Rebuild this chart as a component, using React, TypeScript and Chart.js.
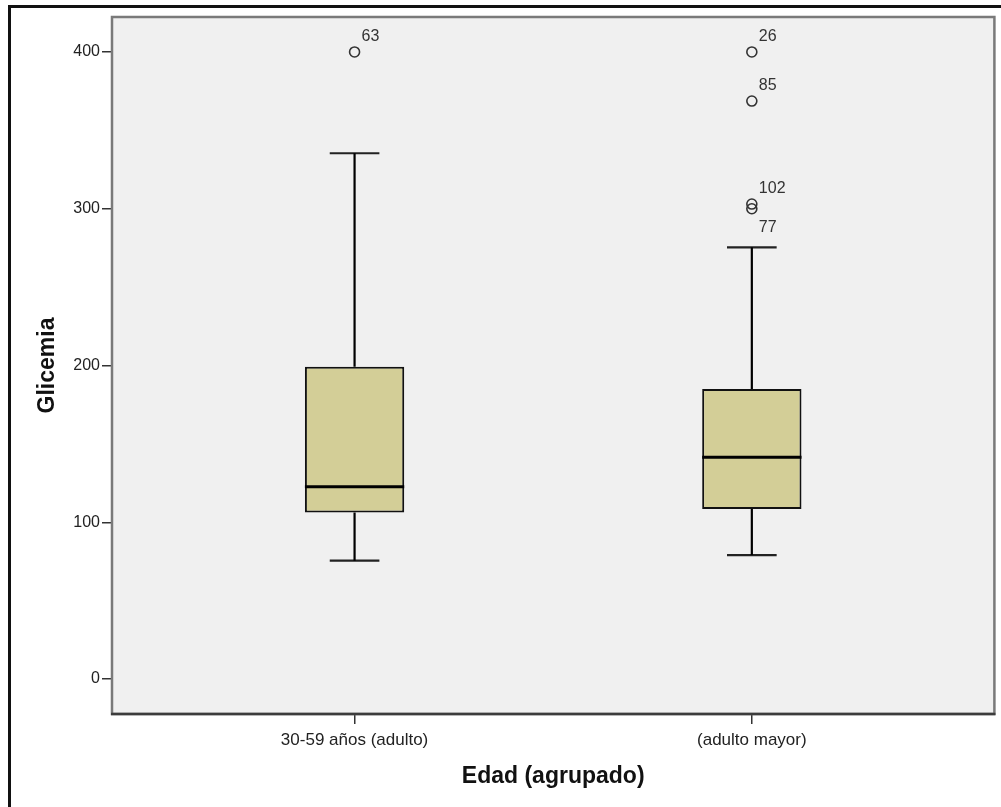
import React, { useEffect, useRef } from "react";
import { Chart, registerables } from "chart.js";

Chart.register(...registerables);

// ---- Data ----
const categories = ["30-59 años (adulto)", "(adulto mayor)"];
const whiskerLow = [75.5, 79.1];
const q1 = [106.3, 108.5];
const median = [122.7, 141.4];
const q3 = [199.2, 185.0];
const whiskerHigh = [335.4, 275.4];

const outlierGroup = [0, 1, 1, 1, 1];
const outlierValue = [400, 400, 368.7, 303, 300];
const outlierId = ["63", "26", "85", "102", "77"];
const outlierLabelBelow = [false, false, false, false, true];

const yTicks = [0, 100, 200, 300, 400];
const yMin = -22.3;
const yMax = 422.3;
const xMin = -0.6106;
const xMax = 1.6106;

// ---- Style constants ----
const BOX_HALF = 0.125;
const CAP_HALF = 0.0625;
const FONT = "'Liberation Sans', Arial, 'DejaVu Sans', sans-serif";

function buildWhiskers() {
  const pts: any[] = [];
  categories.forEach((_, i) => {
    pts.push({ x: i, y: q3[i] }, { x: i, y: whiskerHigh[i] }, { x: i, y: null });
    pts.push({ x: i, y: q1[i] }, { x: i, y: whiskerLow[i] }, { x: i, y: null });
  });
  return pts;
}
function buildCaps() {
  const pts: any[] = [];
  categories.forEach((_, i) => {
    pts.push({ x: i - CAP_HALF, y: whiskerHigh[i] }, { x: i + CAP_HALF, y: whiskerHigh[i] }, { x: i, y: null });
    pts.push({ x: i - CAP_HALF, y: whiskerLow[i] }, { x: i + CAP_HALF, y: whiskerLow[i] }, { x: i, y: null });
  });
  return pts;
}
function buildMedians() {
  const pts: any[] = [];
  categories.forEach((_, i) => {
    pts.push({ x: i - BOX_HALF, y: median[i] }, { x: i + BOX_HALF, y: median[i] }, { x: i, y: null });
  });
  return pts;
}

const framePlugin = {
  id: "spssFrame",
  beforeDraw(chart: any) {
    const { ctx, chartArea: a } = chart;
    ctx.save();
    ctx.fillStyle = "#ffffff";
    ctx.fillRect(0, 0, chart.width, chart.height);
    ctx.fillStyle = "#f0f0f0";
    ctx.fillRect(a.left, a.top, a.right - a.left, a.bottom - a.top);
    ctx.restore();
  },
  afterDatasetsDraw(chart: any) {
    const { ctx } = chart;
    const meta = chart.getDatasetMeta(4);
    ctx.save();
    ctx.font = `16px ${FONT}`;
    ctx.fillStyle = "#333";
    ctx.textAlign = "left";
    ctx.textBaseline = "alphabetic";
    meta.data.forEach((el: any, k: number) => {
      const dy = outlierLabelBelow[k] ? 23 : -11;
      ctx.fillText(outlierId[k], el.x + 7, el.y + dy);
    });
    ctx.restore();
  },
  afterDraw(chart: any) {
    const { ctx, chartArea: a } = chart;
    ctx.save();
    ctx.lineWidth = 2.5;
    ctx.strokeStyle = "#7a7a7a";
    ctx.strokeRect(a.left, a.top, a.right - a.left, a.bottom - a.top);
    ctx.strokeStyle = "#3c3c3c";
    ctx.beginPath();
    ctx.moveTo(a.left - 1, a.bottom);
    ctx.lineTo(a.right + 1, a.bottom);
    ctx.stroke();
    // outer frame
    ctx.fillStyle = "#111";
    ctx.fillRect(8, 5, 3, chart.height - 5);
    ctx.fillRect(8, 5, chart.width - 8, 3);
    ctx.restore();
  },
};

export default function App() {
  const ref = useRef<HTMLCanvasElement>(null);
  useEffect(() => {
    const chart = new Chart(ref.current as HTMLCanvasElement, {
      type: "bar",
      data: {
        datasets: [
          {
            type: "line",
            data: buildMedians(),
            borderColor: "#000",
            borderWidth: 3,
            pointRadius: 0,
            spanGaps: false,
            fill: false,
            order: 0,
          } as any,
          {
            type: "line",
            data: buildWhiskers(),
            borderColor: "#000",
            borderWidth: 2.2,
            pointRadius: 0,
            spanGaps: false,
            fill: false,
            order: 3,
          } as any,
          {
            type: "line",
            data: buildCaps(),
            borderColor: "#222",
            borderWidth: 2.2,
            pointRadius: 0,
            spanGaps: false,
            fill: false,
            order: 3,
          } as any,
          {
            type: "bar",
            data: categories.map((_, i) => ({ x: i, y: [q1[i], q3[i]] })),
            backgroundColor: "#d3ce97",
            borderColor: "#111",
            borderWidth: 2,
            borderSkipped: false,
            barPercentage: BOX_HALF * 2,
            categoryPercentage: 1,
            grouped: false,
            order: 1,
          } as any,
          {
            type: "scatter",
            data: outlierGroup.map((g, k) => ({ x: g, y: outlierValue[k] })),
            pointRadius: 5,
            pointBorderWidth: 1.6,
            pointBorderColor: "#333",
            pointBackgroundColor: "rgba(0,0,0,0)",
            showLine: false,
            order: 0,
          } as any,
        ],
      },
      options: {
        responsive: false,
        animation: false,
        devicePixelRatio: 1,
        layout: { padding: { top: 17, right: 5, left: 0, bottom: 0 } },
        plugins: { legend: { display: false }, tooltip: { enabled: false } },
        scales: {
          x: {
            type: "linear",
            min: xMin,
            max: xMax,
            offset: false,
            grid: {
              display: true,
              offset: false,
              drawOnChartArea: false,
              drawTicks: true,
              tickLength: 10,
              color: "#333",
              lineWidth: 1.5,
            },
            border: { display: false },
            afterBuildTicks: (scale: any) => {
              scale.ticks = categories.map((_, i) => ({ value: i }));
            },
            afterFit: (scale: any) => {
              scale.height = 93;
            },
            ticks: {
              autoSkip: false,
              maxRotation: 0,
              padding: 6,
              color: "#222",
              font: { family: FONT, size: 17 },
              callback: (v: any) => categories[v as number] ?? "",
            },
            title: {
              display: true,
              text: "Edad (agrupado)",
              color: "#111",
              font: { family: FONT, size: 23, weight: "bold" },
              padding: { top: 0, bottom: 17 },
            },
          },
          y: {
            type: "linear",
            min: yMin,
            max: yMax,
            beginAtZero: false,
            grid: {
              display: true,
              drawOnChartArea: false,
              drawTicks: true,
              tickLength: 10,
              color: "#333",
              lineWidth: 1.5,
            },
            border: { display: false },
            afterBuildTicks: (scale: any) => {
              scale.ticks = yTicks.map((v) => ({ value: v }));
            },
            afterFit: (scale: any) => {
              scale.width = 112;
            },
            ticks: {
              padding: 2,
              color: "#222",
              font: { family: FONT, size: 16 },
              callback: (v: any) => String(v),
            },
            title: {
              display: true,
              text: "Glicemia",
              color: "#111",
              font: { family: FONT, size: 23, weight: "bold" },
              padding: { top: 34, bottom: 0 },
            },
          },
        },
      } as any,
      plugins: [framePlugin],
    });
    return () => chart.destroy();
  }, []);
  return (
    <canvas
      ref={ref}
      width={1001}
      height={807}
      style={{ position: "fixed", left: 0, top: 0, width: 1001, height: 807, display: "block" }}
    />
  );
}
